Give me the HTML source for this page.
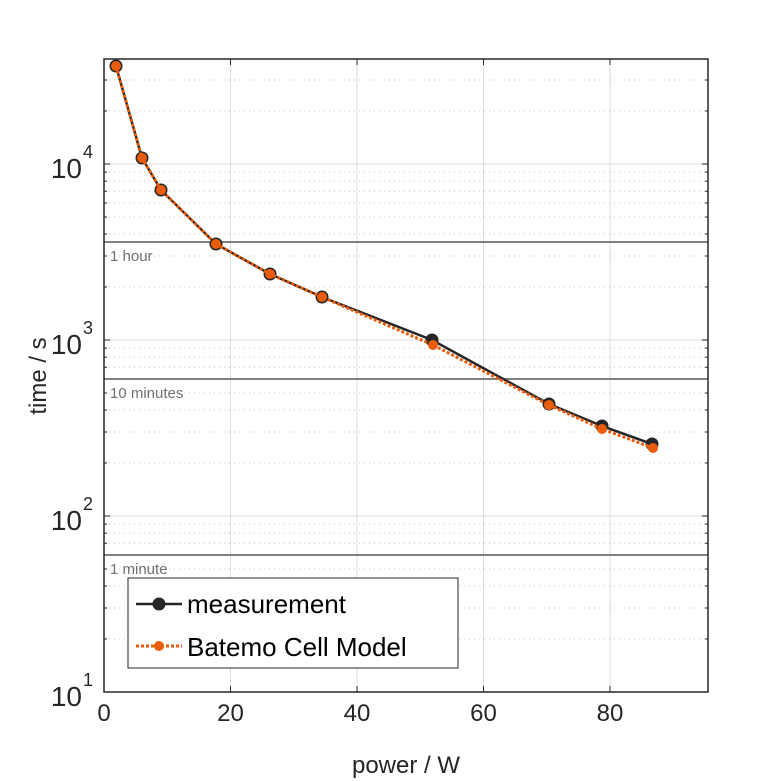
<!DOCTYPE html>
<html><head><style>body{margin:0;background:#fff}svg{display:block}</style></head><body>
<svg width="781" height="781" xmlns="http://www.w3.org/2000/svg" font-family="Liberation Sans, sans-serif">
<rect width="781" height="781" fill="#fff"/>
<path fill="none" stroke="#c4c4c4" stroke-width="1" stroke-dasharray="1,4" d="M104 639H708M104 608H708M104 586H708M104 569H708M104 555H708M104 543.3H708M104 533.1H708M104 524.1H708M104 463H708M104 432H708M104 410H708M104 393H708M104 379H708M104 367.3H708M104 357.1H708M104 348.1H708M104 287H708M104 256H708M104 234H708M104 217H708M104 203H708M104 191.3H708M104 181.1H708M104 172.1H708M104 111H708M104 80H708"/>
<path fill="none" stroke="#dcdcdc" stroke-width="1" d="M104 516H708M104 340H708M104 164H708M230.5 59V692M357 59V692M483.5 59V692M610 59V692"/>
<path fill="none" stroke="#262626" stroke-width="1" d="M104 639h3M104 608h3M104 586h3M104 569h3M104 555h3M104 543.3h3M104 533.1h3M104 524.1h3M104 463h3M104 432h3M104 410h3M104 393h3M104 379h3M104 367.3h3M104 357.1h3M104 348.1h3M104 287h3M104 256h3M104 234h3M104 217h3M104 203h3M104 191.3h3M104 181.1h3M104 172.1h3M104 111h3M104 80h3
M705 639h3M705 608h3M705 586h3M705 569h3M705 555h3M705 543.3h3M705 533.1h3M705 524.1h3M705 463h3M705 432h3M705 410h3M705 393h3M705 379h3M705 367.3h3M705 357.1h3M705 348.1h3M705 287h3M705 256h3M705 234h3M705 217h3M705 203h3M705 191.3h3M705 181.1h3M705 172.1h3M705 111h3M705 80h3
M104 516h6M104 340h6M104 164h6M702 516h6M702 340h6M702 164h6M230.5 692v-6M357 692v-6M483.5 692v-6M610 692v-6M230.5 59v6M357 59v6M483.5 59v6M610 59v6"/>
<g stroke="#808080" stroke-width="2">
<line x1="104" x2="708" y1="242" y2="242"/><line x1="104" x2="708" y1="379" y2="379"/><line x1="104" x2="708" y1="555" y2="555"/>
</g>
<g fill="#707070" font-size="15">
<text x="110" y="261">1 hour</text><text x="110" y="398">10 minutes</text><text x="110" y="574">1 minute</text>
</g>
<polyline fill="none" stroke="#262626" stroke-width="2.5" points="116,66 142,158 161,190 216,244 270,274 322,297 432,340 549,404 602,426 652,444"/>
<g fill="#262626"><circle cx="116" cy="66" r="6.5"/><circle cx="142" cy="158" r="6.5"/><circle cx="161" cy="190" r="6.5"/><circle cx="216" cy="244" r="6.5"/><circle cx="270" cy="274" r="6.5"/><circle cx="322" cy="297" r="6.5"/><circle cx="432" cy="340" r="6.5"/><circle cx="549" cy="404" r="6.5"/><circle cx="602" cy="426" r="6.5"/><circle cx="652" cy="444" r="6.5"/></g>
<polyline fill="none" stroke="#e85c0c" stroke-width="3" stroke-dasharray="3,2" points="116,66 142,158 161,190 216,244 270,274 322,297 433,345 549,405 602,429 653,448"/>
<g fill="#e85c0c"><circle cx="116" cy="66" r="5"/><circle cx="142" cy="158" r="5"/><circle cx="161" cy="190" r="5"/><circle cx="216" cy="244" r="5"/><circle cx="270" cy="274" r="5"/><circle cx="322" cy="297" r="5"/><circle cx="433" cy="345" r="5"/><circle cx="549" cy="405" r="5"/><circle cx="602" cy="429" r="5"/><circle cx="653" cy="448" r="5"/></g>
<rect x="104" y="59" width="604" height="633" fill="none" stroke="#262626" stroke-width="1.5"/>
<g fill="#262626" font-size="24" text-anchor="middle">
<text x="104" y="721">0</text><text x="230.5" y="721">20</text><text x="357" y="721">40</text><text x="483.5" y="721">60</text><text x="610" y="721">80</text>
<text x="406" y="773">power / W</text>
</g>
<g fill="#262626" font-size="28" text-anchor="end">
<text x="82" y="178">10</text><text x="82" y="354">10</text><text x="82" y="530">10</text><text x="82" y="706">10</text>
</g>
<g fill="#262626" font-size="18"><text x="83" y="158">4</text><text x="83" y="334">3</text><text x="83" y="510">2</text><text x="83" y="686">1</text></g>
<text transform="translate(46,376) rotate(-90)" font-size="24" fill="#262626" text-anchor="middle">time / s</text>
<rect x="128" y="578" width="330" height="90" fill="#fff" stroke="#262626" stroke-width="1"/>
<line x1="136" x2="182" y1="604" y2="604" stroke="#262626" stroke-width="2.5"/><circle cx="159" cy="604" r="6.5" fill="#262626"/>
<line x1="136" x2="182" y1="646" y2="646" stroke="#e85c0c" stroke-width="3" stroke-dasharray="3,2"/><circle cx="159" cy="646" r="5" fill="#e85c0c"/>
<g font-size="26" fill="#000"><text x="187" y="613">measurement</text><text x="187" y="656">Batemo Cell Model</text></g>
</svg>
</body></html>
